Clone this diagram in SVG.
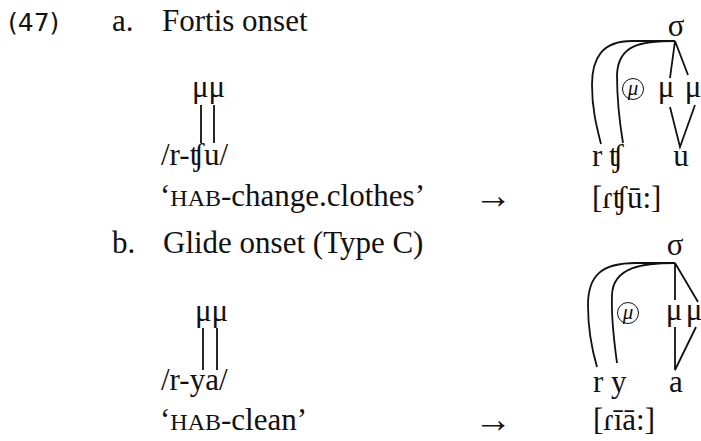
<svg xmlns="http://www.w3.org/2000/svg" width="701" height="441" viewBox="0 0 701 441">
<style>
text{font-family:"Liberation Serif","DejaVu Serif",serif;font-size:31px;fill:#111}
.num{font-family:"DejaVu Sans",sans-serif;font-size:25px}
.sc{font-size:24px}
.mid{text-anchor:middle}
.cm{font-size:21px;font-style:italic}
.arr{font-size:38px}
.ln{fill:none;stroke:#111;stroke-width:1.8}
.cl{fill:none;stroke:#111;stroke-width:1}
</style>
<g id="label47"><text class="num" x="8" y="31">(47)</text></g>
<g id="a-heading"><text x="112" y="31">a.</text><text x="162" y="31">Fortis onset</text></g>
<g id="a-input">
<text x="192" y="97">μμ</text>
<text x="161" y="165">/r-ʧu/</text>
</g>
<g id="a-gloss"><text x="160" y="206">‘<tspan class="sc">HAB</tspan>-change.clothes’</text></g>
<g id="a-arrow"><text class="arr" x="474" y="208">→</text></g>
<g id="a-tree">
<text class="mid" x="676" y="36">σ</text>
<circle class="cl" cx="633" cy="89" r="10.5"/>
<text class="cm mid" x="633" y="95">μ</text>
<text class="mid" x="666" y="97">μ</text>
<text class="mid" x="693" y="97">μ</text>
<text x="592" y="166">r</text><text x="609" y="166">ʧ</text>
<text class="mid" x="681" y="166">u</text>
</g>
<g id="a-output"><text x="592" y="208">[ɾʧū:]</text></g>
<g id="b-heading"><text x="112" y="253">b.</text><text x="163" y="253">Glide onset (Type C)</text></g>
<g id="b-input">
<text x="195" y="321">μμ</text>
<text x="161" y="390">/r-ya/</text>
</g>
<g id="b-gloss"><text x="160" y="430">‘<tspan class="sc">HAB</tspan>-clean’</text></g>
<g id="b-arrow"><text class="arr" x="474" y="432">→</text></g>
<g id="b-tree">
<text class="mid" x="675" y="255">σ</text>
<circle class="cl" cx="628" cy="313" r="10.5"/>
<text class="cm mid" x="628" y="319">μ</text>
<text class="mid" x="674" y="320">μ</text>
<text class="mid" x="694" y="320">μ</text>
<text x="593" y="392">r</text><text x="611" y="392">y</text>
<text class="mid" x="676" y="392">a</text>
</g>
<g id="b-output"><text x="593" y="430">[ɾīā:]</text></g>
<g id="connectors">
<path class="ln" d="M201,105V143M214,105V143"/>
<path class="ln" d="M675,41H632C602,41 592,58 592,85C592,110 597,128 601,144"/>
<path class="ln" d="M675,41C642,41 618,44 617,75C617,105 620,125 623,143"/>
<path class="ln" d="M675,41L670,78M675,41L688,75M670,107L680,147L695,105"/>
<path class="ln" d="M203,328V370M217,328V370"/>
<path class="ln" d="M675,263H636C601,263 588,276 588,305C588,330 592,350 597,367"/>
<path class="ln" d="M675,263C645,263 613,266 612,295C611,320 614,340 617,363"/>
<path class="ln" d="M675,263V300M675,263L698,302M675,327V370L696,327"/>
</g>
</svg>
